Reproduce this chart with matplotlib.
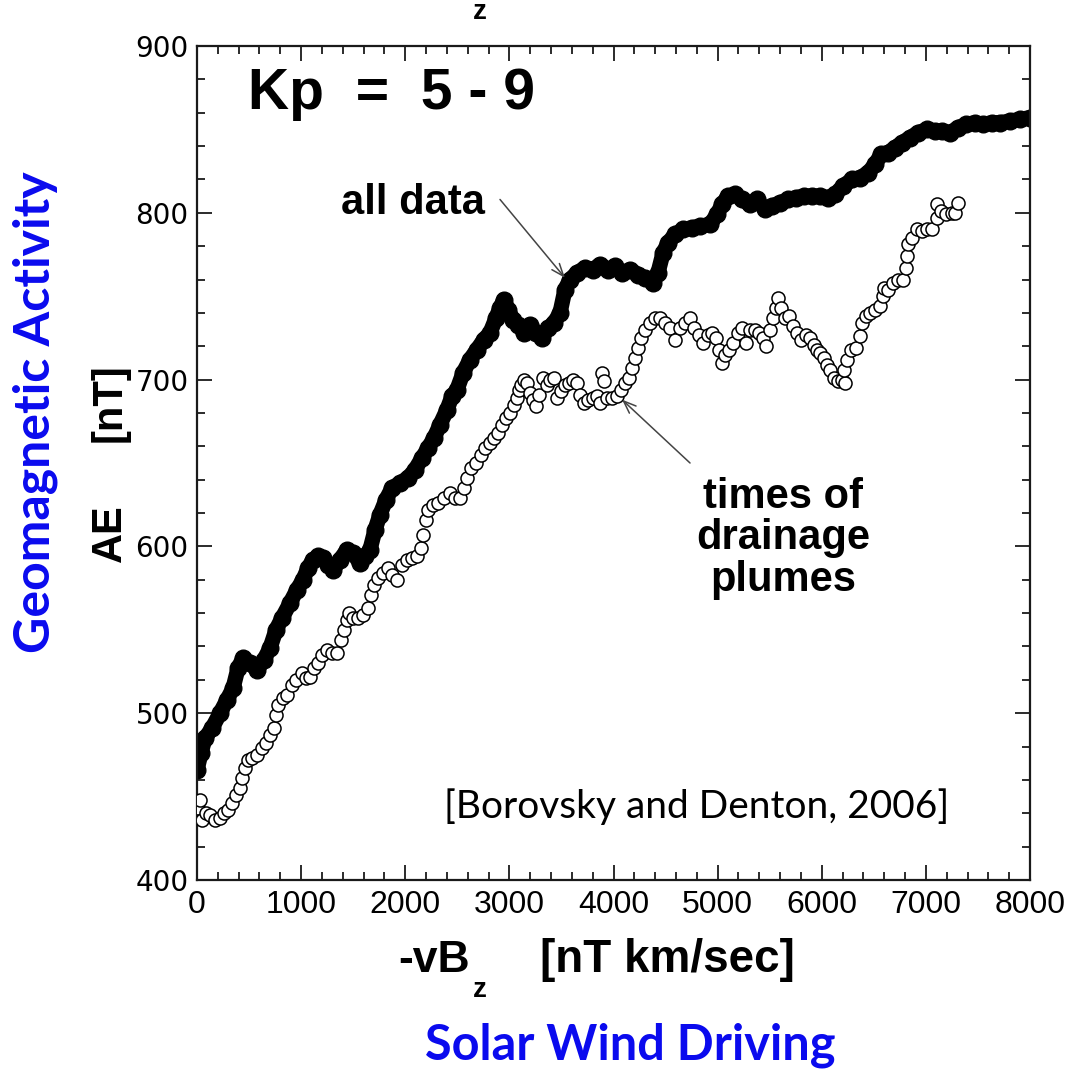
import matplotlib
matplotlib.use("Agg")
import matplotlib.pyplot as plt
from matplotlib.ticker import MultipleLocator

# AE versus -vBz, Kp = 5-9: all data (running average) and times of drainage plumes
all_x = [0, 38, 77, 144, 221, 288, 346, 394, 442, 509, 576, 643, 701, 759, 816,
         893, 960, 1018, 1066, 1114, 1162, 1210, 1258, 1306, 1373, 1441, 1498,
         1565, 1613, 1661, 1710, 1757, 1815, 1873, 1950, 2026, 2094, 2161, 2219,
         2276, 2334, 2401, 2449, 2497, 2555, 2622, 2689, 2756, 2814, 2872, 2910,
         2948, 2987, 3035, 3083, 3140, 3198, 3256, 3313, 3371, 3429, 3486, 3534,
         3582, 3650, 3726, 3803, 3870, 3947, 4015, 4082, 4159, 4235, 4303, 4380,
         4427, 4476, 4524, 4591, 4668, 4754, 4831, 4927, 4994, 5042, 5100, 5167,
         5234, 5311, 5378, 5455, 5522, 5599, 5676, 5753, 5830, 5907, 5983, 6060,
         6127, 6204, 6291, 6368, 6445, 6512, 6569, 6637, 6704, 6771, 6848, 6925,
         7011, 7088, 7155, 7232, 7309, 7386, 7472, 7549, 7635, 7712, 7808, 7904,
         8000]
all_ae = [466, 476, 485, 491, 500, 508, 515, 527, 533, 530, 526, 532, 539, 550,
          557, 566, 574, 580, 587, 592, 594, 593, 589, 586, 592, 598, 596, 590,
          594, 598, 610, 619, 628, 635, 638, 641, 646, 653, 659, 665, 673, 682,
          690, 694, 704, 712, 718, 724, 728, 737, 743, 748, 742, 736, 733, 728,
          733, 728, 725, 731, 734, 740, 754, 760, 764, 767, 766, 769, 766, 768,
          764, 766, 763, 761, 758, 764, 776, 782, 787, 790, 791, 792, 793, 799,
          805, 810, 811, 808, 805, 808, 802, 804, 806, 808, 809, 810, 810, 810,
          809, 811, 816, 820, 821, 824, 829, 835, 836, 839, 842, 845, 848, 850,
          849, 849, 848, 851, 853, 854, 853, 854, 854, 855, 856, 857]

plume_x = [10, 29, 48, 86, 125, 173, 221, 259, 298, 336, 375, 413, 432, 461, 490,
           528, 576, 624, 663, 701, 740, 759, 778, 826, 864, 912, 951, 1008, 1047,
           1085, 1124, 1162, 1200, 1249, 1297, 1345, 1383, 1412, 1441, 1460, 1498,
           1546, 1594, 1642, 1671, 1700, 1738, 1786, 1834, 1873, 1921, 1969, 2017,
           2065, 2113, 2151, 2171, 2199, 2219, 2267, 2315, 2372, 2430, 2478, 2526,
           2564, 2593, 2632, 2680, 2728, 2766, 2814, 2852, 2891, 2929, 2968, 3006,
           3044, 3073, 3092, 3112, 3140, 3169, 3198, 3227, 3256, 3285, 3323, 3361,
           3390, 3429, 3457, 3496, 3534, 3573, 3611, 3650, 3678, 3717, 3755, 3803,
           3842, 3870, 3890, 3909, 3938, 3986, 4034, 4072, 4111, 4149, 4178, 4207,
           4235, 4264, 4303, 4351, 4399, 4447, 4495, 4543, 4591, 4639, 4687, 4735,
           4773, 4821, 4860, 4908, 4946, 4985, 5013, 5042, 5071, 5109, 5148, 5196,
           5234, 5273, 5311, 5359, 5397, 5436, 5465, 5503, 5532, 5561, 5580, 5609,
           5647, 5686, 5724, 5762, 5801, 5849, 5887, 5926, 5955, 5984, 6022, 6051,
           6080, 6118, 6156, 6195, 6224, 6214, 6243, 6281, 6329, 6368, 6387, 6425,
           6464, 6512, 6560, 6589, 6599, 6637, 6685, 6733, 6781, 6810, 6819, 6829,
           6868, 6916, 6964, 7011, 7059, 7107, 7107, 7146, 7194, 7251, 7280, 7309]
plume_ae = [443, 448, 436, 440, 439, 436, 437, 440, 442, 446, 451, 455, 461, 467,
            472, 473, 475, 479, 482, 487, 491, 499, 505, 509, 511, 517, 520, 524,
            521, 522, 527, 530, 535, 538, 536, 536, 544, 550, 556, 560, 557, 557,
            559, 563, 571, 577, 581, 584, 587, 583, 580, 589, 592, 593, 594, 599,
            607, 616, 622, 625, 626, 629, 632, 629, 629, 635, 641, 647, 650, 655,
            659, 662, 665, 668, 673, 677, 680, 685, 689, 694, 697, 700, 698, 692,
            688, 684, 691, 701, 697, 700, 701, 689, 693, 697, 698, 700, 698, 691,
            686, 688, 689, 690, 686, 704, 699, 689, 689, 690, 694, 698, 701, 707,
            713, 719, 725, 730, 734, 737, 737, 734, 731, 724, 731, 734, 737, 731,
            727, 722, 727, 728, 725, 718, 710, 715, 718, 722, 728, 731, 722, 730,
            730, 728, 725, 720, 730, 737, 743, 749, 743, 737, 738, 732, 728, 724,
            727, 725, 721, 718, 716, 713, 709, 706, 701, 699, 700, 698, 706, 712,
            718, 719, 726, 734, 738, 740, 742, 744, 750, 755, 754, 758, 760, 760,
            767, 774, 781, 785, 790, 789, 790, 790, 797, 805, 801, 799, 800, 800,
            806]

x_ticks = [0, 1000, 2000, 3000, 4000, 5000, 6000, 7000, 8000]
y_ticks = [400, 500, 600, 700, 800, 900]

W, H, DPI = 1074, 1070, 100
fig = plt.figure(figsize=(W / DPI, H / DPI), dpi=DPI)
ax = fig.add_axes([197 / W, 1 - 880 / H, 833 / W, 834 / H])

ax.plot(all_x, all_ae, color="black", lw=11, marker="o", ms=12,
        mfc="black", mec="black", solid_joinstyle="round",
        solid_capstyle="round", zorder=2)
ax.plot(plume_x, plume_ae, ls="none", marker="o", ms=9.4, mfc="white",
        mec="black", mew=1.1, zorder=3)

ax.set_xlim(0, 8000)
ax.set_ylim(400, 900)
ax.set_xticks(x_ticks)
ax.set_yticks(y_ticks)
ax.xaxis.set_minor_locator(MultipleLocator(200))
ax.yaxis.set_minor_locator(MultipleLocator(20))
ax.tick_params(which="both", direction="in", top=True, right=True, width=1.3,
               color="#1a1a1a")
ax.tick_params(which="major", length=11)
ax.tick_params(which="minor", length=6)
ax.tick_params(axis="y", which="major", labelsize=20, pad=6)
ax.tick_params(axis="x", which="major", labelsize=23, pad=7)
for lab in ax.get_xticklabels():
    lab.set_family("Liberation Sans")
for lab in ax.get_yticklabels():
    lab.set_family("DejaVu Sans")
for sp in ax.spines.values():
    sp.set_linewidth(1.6)
    sp.set_color("#1a1a1a")

bold = dict(family="Liberation Sans", weight="bold", color="black")
ax.text(490, 871, "Kp  =  5 - 9", fontsize=41, ha="left", va="center", **bold)
ax.text(2075, 806, "all data", fontsize=30, ha="center", va="center", **bold)
ax.text(5628, 605, "times of\ndrainage\nplumes", fontsize=30, ha="center",
        va="center", linespacing=1.05, **bold)
ax.text(4802, 444, "[Borovsky and Denton, 2006]", fontsize=28, ha="center",
        va="center", family="Lato", color="black")

arrow = dict(arrowstyle="->,head_length=0.9,head_width=0.35", color="#444444",
             lw=1.1, shrinkA=0, shrinkB=0)
ax.annotate("", xy=(3534, 761), xytext=(2910, 808), arrowprops=arrow)
ax.annotate("", xy=(4082, 688), xytext=(4735, 650), arrowprops=arrow)

# axis titles
fig.text(110 / W, 1 - 533 / H, "AE", rotation=90, fontsize=30,
         ha="center", va="center", **bold)
fig.text(110 / W, 1 - 403 / H, "[nT]", rotation=90, fontsize=30,
         ha="center", va="center", **bold)
fig.text(398 / W, 1 - 960 / H, "-vB", fontsize=32, ha="left", va="center",
         **bold)
fig.text(540 / W, 1 - 960 / H, "[nT km/sec]", fontsize=33, ha="left",
         va="center", **bold)
fig.text(480 / W, 1 - 990 / H, "z", fontsize=20, ha="center", va="center",
         **bold)
fig.text(480 / W, 1 - 12 / H, "z", fontsize=20, ha="center", va="center",
         **bold)

blue = "#0a0aee"
fig.text(35 / W, 1 - 412 / H, "Geomagnetic Activity", rotation=90,
         fontsize=36, ha="center", va="center", family="Lato", weight="bold",
         color=blue)
fig.text(630 / W, 1 - 1045 / H, "Solar Wind Driving", fontsize=35,
         ha="center", va="center", family="Lato", weight="bold", color=blue)

fig.savefig("out.png", dpi=DPI)
